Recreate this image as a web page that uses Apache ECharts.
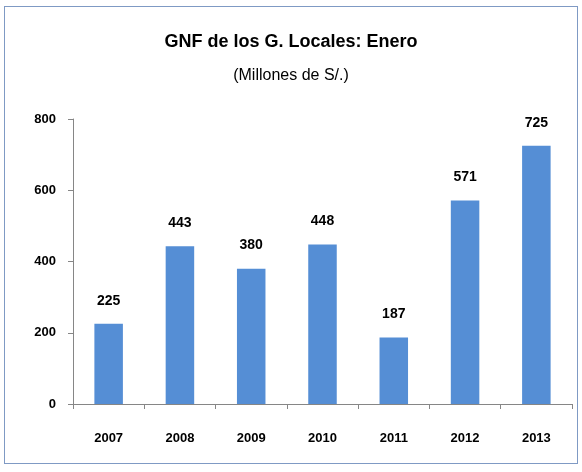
<!DOCTYPE html>
<html>
<head>
<meta charset="utf-8">
<script src="https://cdn.jsdelivr.net/npm/echarts@6/dist/echarts.min.js"></script>
<style>
  html, body { margin: 0; padding: 0; background: #fff; }
  #frame { position: absolute; left: 4px; top: 6px; width: 574px; height: 458px; border: 1px solid #7f9ac4; box-sizing: border-box; }
  #chart { position: absolute; left: 0; top: 0; width: 582px; height: 472px; }
</style>
</head>
<body>
<div id="frame"></div>
<div id="chart"></div>
<script>
// datos del gráfico
const years = ['2007', '2008', '2009', '2010', '2011', '2012', '2013'];
const gnf = [225, 443, 380, 448, 187, 571, 725];
const yTicks = [0, 200, 400, 600, 800];

const font = '"Liberation Sans", Arial, sans-serif';

const myChart = echarts.init(document.getElementById('chart'));
const options = {
    animation: false,
    title: [{
        text: 'GNF de los G. Locales: Enero',
        left: 'center',
        top: 28,
        textStyle: { fontFamily: font, fontSize: 18, fontWeight: 'bold', color: '#000' }
    }, {
        text: '(Millones de S/.)',
        left: 'center',
        top: 63,
        textStyle: { fontFamily: font, fontSize: 16, fontWeight: 'normal', color: '#000' }
    }],
    grid: { left: 73, right: 10, top: 119, bottom: 68, containLabel: false },
    xAxis: {
        type: 'category',
        data: years,
        axisLine: { lineStyle: { color: '#868686' } },
        axisTick: { show: true, length: 5, lineStyle: { color: '#868686' } },
        axisLabel: { margin: 28, fontFamily: font, fontSize: 13, fontWeight: 'bold', color: '#000' }
    },
    yAxis: {
        type: 'value',
        min: yTicks[0],
        max: yTicks[yTicks.length - 1],
        interval: 200,
        splitLine: { show: false },
        axisLine: { show: true, lineStyle: { color: '#868686' } },
        axisTick: { show: true, length: 5, lineStyle: { color: '#868686' } },
        axisLabel: { margin: 17, fontFamily: font, fontSize: 13, fontWeight: 'bold', color: '#000' }
    },
    series: [{
        type: 'bar',
        data: gnf,
        barWidth: '40%',
        itemStyle: { color: '#558ED5' },
        label: {
            show: true,
            position: 'top',
            distance: 16,
            fontFamily: font,
            fontSize: 14,
            fontWeight: 'bold',
            color: '#000'
        }
    }]
};
myChart.setOption(options);
</script>
</body>
</html>
